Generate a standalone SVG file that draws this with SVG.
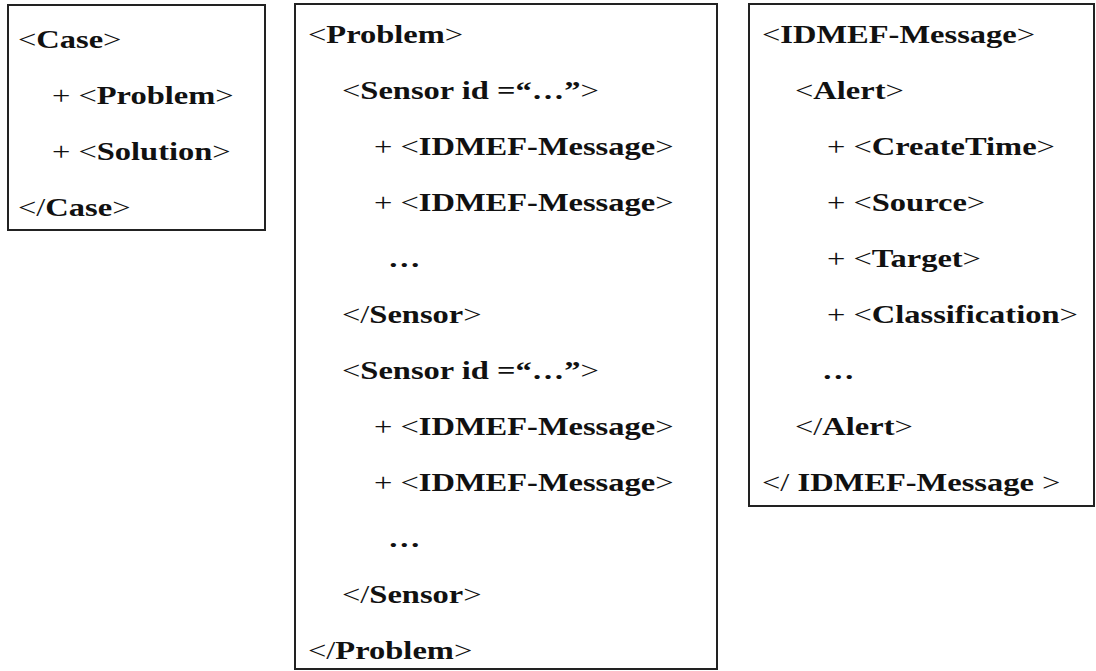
<svg xmlns="http://www.w3.org/2000/svg" width="1096" height="671" viewBox="0 0 1096 671">
<style>
.box{fill:#fff;stroke:#222;stroke-width:2}
text{font-family:"Liberation Serif","Times New Roman",serif;font-size:26px;font-weight:bold;fill:#111}
.r{font-weight:normal}
</style>
<rect width="1096" height="671" fill="#fff"/>
<g id="case">
<rect class="box" x="8" y="5" width="257" height="225"/>
<text transform="translate(18,48) scale(1.25,1)"><tspan class="r">&lt;</tspan>Case<tspan class="r">&gt;</tspan></text>
<text transform="translate(52,104) scale(1.25,1)"><tspan class="r">+ &lt;</tspan>Problem<tspan class="r">&gt;</tspan></text>
<text transform="translate(52,160) scale(1.25,1)"><tspan class="r">+ &lt;</tspan>Solution<tspan class="r">&gt;</tspan></text>
<text transform="translate(18,216) scale(1.25,1)"><tspan class="r">&lt;/</tspan>Case<tspan class="r">&gt;</tspan></text>
</g>
<g id="problem">
<rect class="box" x="295" y="4" width="422" height="665"/>
<text transform="translate(308,43) scale(1.25,1)"><tspan class="r">&lt;</tspan>Problem<tspan class="r">&gt;</tspan></text>
<text transform="translate(342,99) scale(1.25,1)"><tspan class="r">&lt;</tspan>Sensor id =“…”<tspan class="r">&gt;</tspan></text>
<text transform="translate(374,155) scale(1.25,1)"><tspan class="r">+ &lt;</tspan>IDMEF-Message<tspan class="r">&gt;</tspan></text>
<text transform="translate(374,211) scale(1.25,1)"><tspan class="r">+ &lt;</tspan>IDMEF-Message<tspan class="r">&gt;</tspan></text>
<text transform="translate(388,267) scale(1.25,1)">…</text>
<text transform="translate(342,323) scale(1.25,1)"><tspan class="r">&lt;/</tspan>Sensor<tspan class="r">&gt;</tspan></text>
<text transform="translate(342,379) scale(1.25,1)"><tspan class="r">&lt;</tspan>Sensor id =“…”<tspan class="r">&gt;</tspan></text>
<text transform="translate(374,435) scale(1.25,1)"><tspan class="r">+ &lt;</tspan>IDMEF-Message<tspan class="r">&gt;</tspan></text>
<text transform="translate(374,491) scale(1.25,1)"><tspan class="r">+ &lt;</tspan>IDMEF-Message<tspan class="r">&gt;</tspan></text>
<text transform="translate(388,547) scale(1.25,1)">…</text>
<text transform="translate(342,603) scale(1.25,1)"><tspan class="r">&lt;/</tspan>Sensor<tspan class="r">&gt;</tspan></text>
<text transform="translate(308,659) scale(1.25,1)"><tspan class="r">&lt;/</tspan>Problem<tspan class="r">&gt;</tspan></text>
</g>
<g id="idmef">
<rect class="box" x="749" y="4" width="345" height="502"/>
<text transform="translate(762,43) scale(1.25,1)"><tspan class="r">&lt;</tspan>IDMEF-Message<tspan class="r">&gt;</tspan></text>
<text transform="translate(795,99) scale(1.25,1)"><tspan class="r">&lt;</tspan>Alert<tspan class="r">&gt;</tspan></text>
<text transform="translate(827,155) scale(1.25,1)"><tspan class="r">+ &lt;</tspan>CreateTime<tspan class="r">&gt;</tspan></text>
<text transform="translate(827,211) scale(1.25,1)"><tspan class="r">+ &lt;</tspan>Source<tspan class="r">&gt;</tspan></text>
<text transform="translate(827,267) scale(1.25,1)"><tspan class="r">+ &lt;</tspan>Target<tspan class="r">&gt;</tspan></text>
<text transform="translate(827,323) scale(1.25,1)"><tspan class="r">+ &lt;</tspan>Classification<tspan class="r">&gt;</tspan></text>
<text transform="translate(822,379) scale(1.25,1)">…</text>
<text transform="translate(795,435) scale(1.25,1)"><tspan class="r">&lt;/</tspan>Alert<tspan class="r">&gt;</tspan></text>
<text transform="translate(762,491) scale(1.25,1)"><tspan class="r">&lt;/</tspan> IDMEF-Message <tspan class="r">&gt;</tspan></text>
</g>
<g id="connectors"/>
</svg>
